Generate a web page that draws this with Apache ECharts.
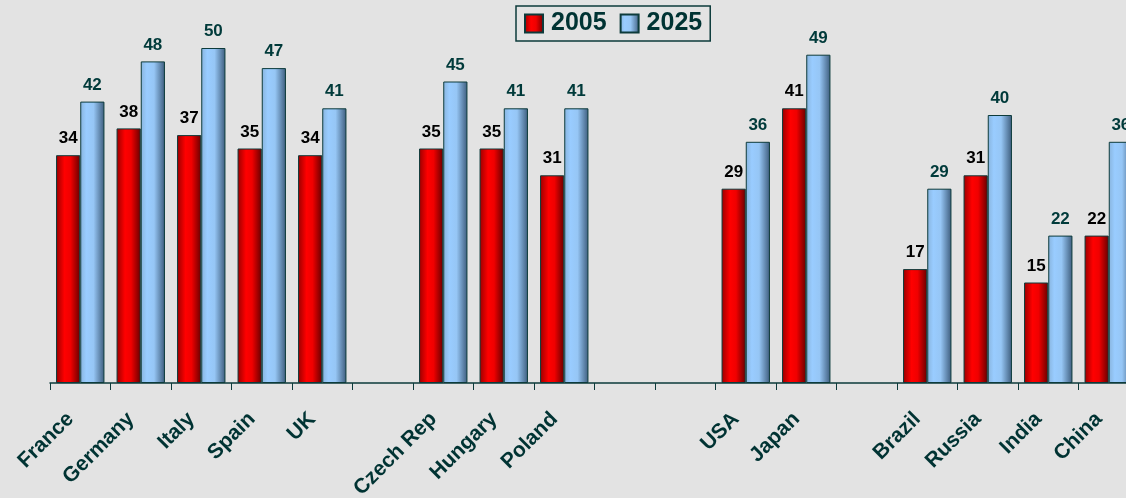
<!DOCTYPE html>
<html>
<head>
<meta charset="utf-8">
<script src="https://cdn.jsdelivr.net/npm/echarts@6/dist/echarts.min.js"></script>
<style>
html,body{margin:0;padding:0;background:#e3e3e3;}
#c{width:1126px;height:498px;}
</style>
</head>
<body>
<div id="c"></div>
<script>
const categories = ['France','Germany','Italy','Spain','UK','','Czech Rep','Hungary','Poland','','','USA','Japan','','Brazil','Russia','India','China'];
const values2005 = [34,38,37,35,34,null,35,35,31,null,null,29,41,null,17,31,15,22];
const values2025 = [42,48,50,47,41,null,45,41,41,null,null,36,49,null,29,40,22,36];
const seriesNames = ['2005','2025'];

const dark = '#0d3b3b';
const redGrad = new echarts.graphic.LinearGradient(0,0,1,0,[
  {offset:0,color:'#990000'},{offset:0.35,color:'#ff0000'},{offset:0.6,color:'#f00000'},{offset:1,color:'#660000'}]);
const blueGrad = new echarts.graphic.LinearGradient(0,0,1,0,[
  {offset:0,color:'#88b4dd'},{offset:0.25,color:'#99ccff'},{offset:0.55,color:'#96c6f5'},{offset:1,color:'#3d5c7c'}]);

const chart = echarts.init(document.getElementById('c'));
chart.setOption({
  backgroundColor:'#e3e3e3',
  animation:false,
  legend:{
    left:516, top:6,
    data:seriesNames,
    icon:'rect',
    itemWidth:18, itemHeight:18, itemGap:13,
    padding:[5,8],
    borderColor:dark, borderWidth:1.5,
    textStyle:{fontFamily:'Liberation Sans, Arial', fontWeight:'bold', fontSize:25, color:'#003333', padding:[0,0,0,3]}
  },
  grid:{left:50, top:-19, width:1089, height:402, outerBoundsMode:'none', containLabel:false},
  xAxis:{
    type:'category', data:categories,
    axisLine:{lineStyle:{color:dark,width:1.5}},
    axisTick:{show:true,length:7,lineStyle:{color:dark,width:1}},
    axisLabel:{interval:0, rotate:45, margin:23, padding:[0,14,0,0], fontFamily:'Liberation Sans, Arial', fontWeight:'bold', fontSize:21, color:'#003333'}
  },
  yAxis:{type:'value', min:0, max:60, show:false, splitLine:{show:false}},
  series:[
    {name:seriesNames[0], type:'bar', data:values2005, barGap:'0%', barCategoryGap:'20%',
     itemStyle:{color:redGrad, borderColor:dark, borderWidth:1},
     label:{show:true, position:'top', distance:8, fontFamily:'Liberation Sans, Arial', fontWeight:'bold', fontSize:17, color:'#000000'}},
    {name:seriesNames[1], type:'bar', data:values2025, barGap:'0%', barCategoryGap:'20%',
     itemStyle:{color:blueGrad, borderColor:dark, borderWidth:1},
     label:{show:true, position:'top', distance:8, fontFamily:'Liberation Sans, Arial', fontWeight:'bold', fontSize:17, color:'#003a3a'}}
  ]
});
</script>
</body>
</html>
